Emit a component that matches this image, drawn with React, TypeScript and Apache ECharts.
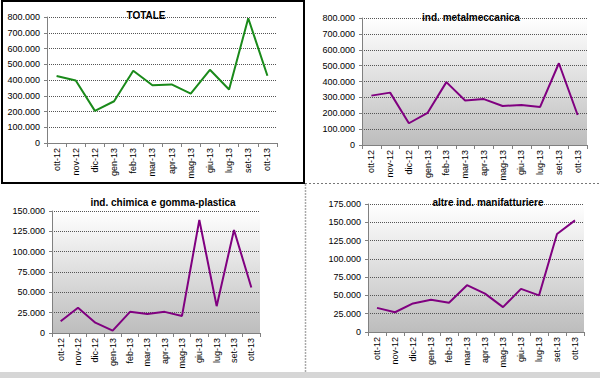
import React, { useEffect, useRef } from "react";
import * as echarts from "echarts";

const categories = ["ott-12", "nov-12", "dic-12", "gen-13", "feb-13", "mar-13", "apr-13", "mag-13", "giu-13", "lug-13", "set-13", "ott-13"];
const totale = [425000, 397000, 204000, 265000, 459000, 367000, 372000, 314000, 465000, 340000, 792000, 427000];
const metalmeccanica = [311000, 330000, 137000, 203000, 396000, 280000, 289000, 246000, 252000, 240000, 515000, 189000];
const chimica = [14400, 31000, 12700, 2900, 26000, 23400, 26000, 21000, 139000, 33000, 126600, 56000];
const altre = [33000, 27000, 39000, 44000, 40000, 64000, 52500, 34000, 59000, 50000, 134000, 152600];

const titles = ["TOTALE", "ind. metalmeccanica", "ind. chimica e gomma-plastica", "altre ind. manifatturiere"];
const yMax = [800000, 800000, 150000, 175000];
const yStep = [100000, 100000, 25000, 25000];

const fmt = (v: number) => String(v).replace(/\B(?=(\d{3})+(?!\d))/g, ".");

export default function App() {
  const ref = useRef<HTMLDivElement>(null);
  useEffect(() => {
    document.body.style.margin = "0";
    const chart = echarts.init(ref.current!, undefined, { renderer: "svg" });
    const grids = [
      { left: 47, top: 17, width: 230, height: 126 },
      { left: 362, top: 18, width: 225, height: 127 },
      { left: 52, top: 211, width: 208, height: 122 },
      { left: 368, top: 204, width: 216, height: 128 },
    ];
    const grad = () =>
      new echarts.graphic.LinearGradient(0, 0, 0, 1, [
        { offset: 0, color: "#ffffff" },
        { offset: 1, color: "#bdbdbd" },
      ]);
    const titleCenters = [
      [141, 5],
      [466, 7],
      [158, 192],
      [483, 192],
    ];
    const data = [totale, metalmeccanica, chimica, altre];
    const colors = ["#1a8a1a", "#800080", "#800080", "#800080"];
    chart.setOption({
      animation: false,
      backgroundColor: "#ffffff",
      title: titles.map((t, i) => ({
        text: t,
        left: titleCenters[i][0],
        top: titleCenters[i][1],
        textAlign: "center",
        textStyle: { fontFamily: "Liberation Sans, Arial", fontSize: 10, fontWeight: "bold", color: "#000" },
      })),
      grid: grids.map((g, i) => ({
        ...g,
        show: true,
        borderWidth: 0,
        backgroundColor: i === 0 ? "#ffffff" : grad(),
      })),
      xAxis: grids.map((_, i) => ({
        type: "category",
        gridIndex: i,
        data: categories,
        boundaryGap: true,
        axisLine: { lineStyle: { color: "#808080", width: 1 } },
        axisTick: { show: true, length: 4, lineStyle: { color: "#808080" } },
        axisLabel: {
          rotate: 90,
          interval: 0,
          fontSize: 9,
          fontFamily: "Liberation Sans, Arial",
          color: "#000",
          margin: 5,
        },
      })),
      yAxis: grids.map((_, i) => ({
        type: "value",
        gridIndex: i,
        min: 0,
        max: yMax[i],
        interval: yStep[i],
        axisLine: { show: true, lineStyle: { color: "#808080", width: 1 } },
        axisTick: { show: true, length: 3, lineStyle: { color: "#808080" } },
        axisLabel: {
          formatter: (v: number) => fmt(v),
          fontSize: 9,
          fontFamily: "Liberation Sans, Arial",
          color: "#000",
          margin: 7,
        },
        splitLine: { show: true, lineStyle: { color: "#555555", type: [1, 1], width: 1 } },
      })),
      series: data.map((d, i) => ({
        type: "line",
        xAxisIndex: i,
        yAxisIndex: i,
        data: d,
        symbol: "none",
        lineStyle: { color: colors[i], width: 2 },
        itemStyle: { color: colors[i] },
      })),
      graphic: [
        {
          type: "rect",
          shape: { x: 2, y: 1, width: 302, height: 182 },
          style: { fill: "none", stroke: "#000", lineWidth: 2 },
          z: 10,
        },
        {
          type: "line",
          shape: { x1: 305, y1: 183.5, x2: 600, y2: 183.5 },
          style: { stroke: "#777", lineWidth: 1, lineDash: [2, 2] },
        },
        {
          type: "line",
          shape: { x1: 305.5, y1: 184, x2: 305.5, y2: 372 },
          style: { stroke: "#aaa", lineWidth: 1.5, lineDash: [2, 1] },
        },
        {
          type: "rect",
          shape: { x: 0, y: 372, width: 600, height: 6 },
          style: { fill: "#d6d6d6" },
        },
      ],
    });
    return () => chart.dispose();
  }, []);
  return <div ref={ref} style={{ position: "absolute", left: 0, top: 0, width: 600, height: 378 }} />;
}
